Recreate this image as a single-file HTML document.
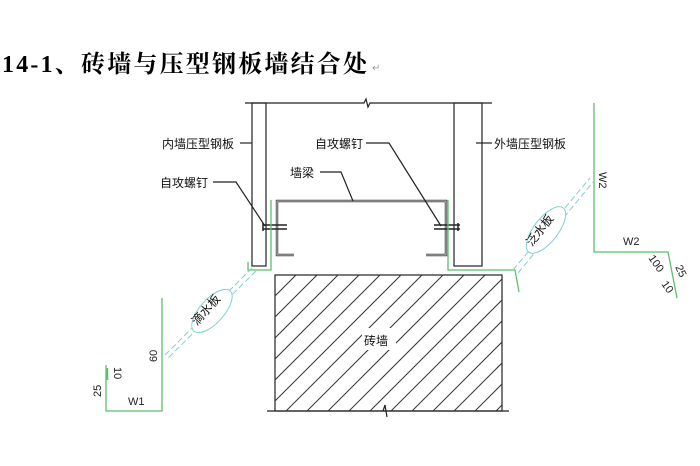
<!DOCTYPE html>
<html><head><meta charset="utf-8"><style>
html,body{margin:0;padding:0;background:#fff;width:700px;height:466px;overflow:hidden}
svg{display:block}
.t{font-family:"Liberation Sans","Noto Sans CJK SC",sans-serif;font-size:12px;fill:#111}
</style></head><body>
<svg width="700" height="466" viewBox="0 0 700 466" xmlns="http://www.w3.org/2000/svg">
<text x="2" y="72" style="font-family:'Liberation Serif','Noto Serif CJK SC',serif;font-size:24px;font-weight:bold;letter-spacing:2.2px" fill="#000">14-1、砖墙与压型钢板墙结合处</text>
<text x="372" y="71" font-size="10" fill="#999" font-family="Liberation Sans,sans-serif">↵</text>

<g stroke="#222" stroke-width="1.2" fill="none">
<path d="M245 103 H364 L366 99 L368 107 L370 103 H492"/>
<rect x="252" y="103" width="14" height="163"/>
<rect x="454" y="103" width="28" height="163"/>
<path d="M294 255 H277 V201 H446 V255 H426" stroke-width="2.5" stroke="#444"/>
<path d="M294 255 H277 V201 H446 V255 H426" stroke-width="0.8" stroke="#ddd"/>
<path d="M263 225 H287 M263 229 H287 M263 223 V231" stroke-width="1.5"/>
<path d="M434 225 H460 M434 229 H460 M458 223 V231" stroke-width="1.5"/>
<path d="M240 143 H252"/>
<path d="M213 182 H236 L265 226"/>
<path d="M320 172 H341 L353 201"/>
<path d="M366 143 H389 L441 226"/>
<path d="M476 143 H492"/>
<rect x="275" y="275" width="227" height="136"/>
<path d="M267 411 H509 M383 411 L385 405 L387 417"/>
</g>
<clipPath id="c"><rect x="275" y="275" width="227" height="136"/></clipPath>
<g clip-path="url(#c)" stroke="#333" stroke-width="1">
<path d="M275 296 L296 275 M275 317 L317 275 M275 338 L338 275 M275 359 L359 275 M275 380 L380 275 M275 401 L401 275 M275 422 L422 275 M275 443 L443 275 M275 464 L464 275 M275 485 L485 275 M275 506 L506 275 M275 527 L527 275 M275 548 L548 275 M275 569 L569 275 M275 590 L590 275 M275 611 L611 275 M275 632 L632 275"/>
</g>
<rect x="362" y="328" width="34" height="22" fill="#fff"/>
<text class="t" x="364" y="345">砖墙</text>

<text class="t" x="162" y="148">内墙压型钢板</text>
<text class="t" x="160" y="187">自攻螺钉</text>
<text class="t" x="290" y="177">墙梁</text>
<text class="t" x="315" y="148">自攻螺钉</text>
<text class="t" x="494" y="148">外墙压型钢板</text>

<g stroke="#5cbf6a" stroke-width="1.3" fill="none">
<path d="M271 200 V270 H248 V262"/>
<path d="M448 200 V270 H515 L519 292"/>
<path d="M162 298 V411 H106 V365"/>
<path d="M594 103 V252 H668 L677 298"/>
</g>
<path d="M107 368 V380" stroke="#5cbf6a" stroke-width="2.5"/>

<g stroke="#7fd0d0" stroke-width="1" fill="none" stroke-dasharray="6 3">
<path d="M252 268 L165 355 M256 271 L168 358"/>
<path d="M513 270 L590 178 M518 273 L594 181"/>
</g>
<g stroke="#7fd0d0" stroke-width="1" fill="#fff">
<ellipse cx="212" cy="311" rx="27" ry="12" transform="rotate(-48 212 311)"/>
<ellipse cx="546" cy="230" rx="28" ry="12" transform="rotate(-52 546 230)"/>
</g>
<text class="t" font-size="11" transform="translate(197 326) rotate(-48)">滴水板</text>
<text class="t" font-size="11" transform="translate(532 247) rotate(-52)">泛水板</text>

<g class="t" style="font-size:11px;fill:#222">
<text transform="translate(157 362) rotate(-90)">60</text>
<text transform="translate(114 367) rotate(90)">10</text>
<text transform="translate(101 397) rotate(-90)">25</text>
<text x="128" y="405">W1</text>
<text transform="translate(599 172) rotate(90)">W2</text>
<text x="623" y="245">W2</text>
<text transform="translate(648 258) rotate(55)">100</text>
<text transform="translate(661 284) rotate(55)">10</text>
<text transform="translate(675 267) rotate(65)">25</text>
</g>
</svg>
</body></html>
